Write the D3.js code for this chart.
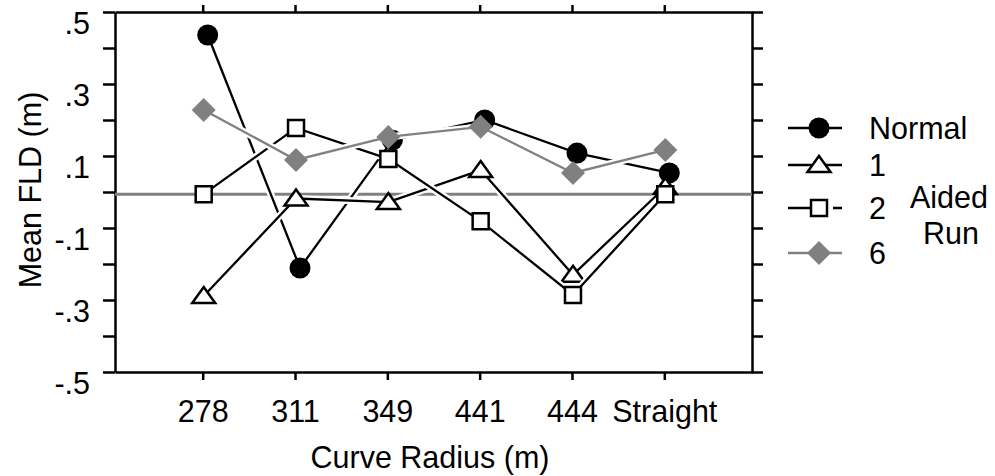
<!DOCTYPE html>
<html>
<head>
<meta charset="utf-8">
<script src="https://cdn.jsdelivr.net/npm/d3@7"></script>
<style>
  body { margin: 0; background: #fff; }
  svg { display: block; font-family: "Liberation Sans", Arial, sans-serif; }
  .axis path, .axis line { stroke: #000; stroke-width: 2.5; }
</style>
</head>
<body>
<div id="chart"></div>
<script>
// data
var categories = ["278", "311", "349", "441", "444", "Straight"];
var normalVals = [0.436, -0.211, 0.144, 0.200, 0.108, 0.053];
var aided1Vals = [-0.289, -0.018, -0.028, 0.061, -0.230, 0.014];
var aided2Vals = [-0.006, 0.178, 0.092, -0.081, -0.286, -0.006];
var aided6Vals = [0.228, 0.089, 0.153, 0.181, 0.053, 0.117];
var refValue = -0.006;
var yTickVals = [-0.5, -0.4, -0.3, -0.2, -0.1, 0, 0.1, 0.2, 0.3, 0.4, 0.5];
var yTickLabels = {"-0.5": "-.5", "-0.3": "-.3", "-0.1": "-.1", "0.1": ".1", "0.3": ".3", "0.5": ".5"};
var legendNames = ["Normal", "1", "2", "6"];

var width = 995, height = 476;
var plotLeft = 115, plotRight = 752, plotTop = 12, plotBottom = 372;
var fontSize = 30.5;

var svg = d3.select("#chart").append("svg")
    .attr("width", width)
    .attr("height", height);

var x = d3.scalePoint().domain(categories).range([plotLeft, plotRight]).padding(0.95);
var y = d3.scaleLinear().domain([-0.5, 0.5]).range([plotBottom, plotTop]);

// axes
var yLeft = svg.append("g").attr("class", "axis")
    .attr("transform", "translate(" + plotLeft + ",0)")
    .call(d3.axisLeft(y).tickValues(yTickVals).tickSize(12).tickSizeOuter(0)
        .tickFormat(function (d) { return yTickLabels[String(+d.toFixed(1))] || ""; }));
yLeft.selectAll("text")
    .attr("x", -25).attr("dy", "0.7em")
    .style("font-size", fontSize + "px").style("font-family", "inherit").attr("fill", "#000");

svg.append("g").attr("class", "axis")
    .attr("transform", "translate(" + plotRight + ",0)")
    .call(d3.axisRight(y).tickValues(yTickVals).tickSize(11).tickSizeOuter(0).tickFormat(""));

var xBottom = svg.append("g").attr("class", "axis")
    .attr("transform", "translate(0," + plotBottom + ")")
    .call(d3.axisBottom(x).tickSize(8).tickSizeOuter(0));
xBottom.selectAll("text")
    .attr("y", 50).attr("dy", 0)
    .style("font-size", fontSize + "px").style("font-family", "inherit").attr("fill", "#000");

svg.append("g").attr("class", "axis")
    .attr("transform", "translate(0," + plotTop + ")")
    .call(d3.axisTop(x).tickSize(7).tickSizeOuter(0).tickFormat(""));

// axis titles
svg.append("text")
    .attr("x", 430).attr("y", 468)
    .attr("text-anchor", "middle")
    .style("font-size", fontSize + "px")
    .text("Curve Radius (m)");

svg.append("text")
    .attr("transform", "translate(41," + 190 + ") rotate(-90)")
    .attr("text-anchor", "middle")
    .style("font-size", fontSize + "px")
    .text("Mean FLD (m)");

// reference line
svg.append("line")
    .attr("x1", plotLeft).attr("x2", plotRight)
    .attr("y1", y(refValue)).attr("y2", y(refValue))
    .attr("stroke", "#808080").attr("stroke-width", 3);

// marker shapes
function markerPath(kind) {
    if (kind == "triangle") return "M0,-9L11.5,7L-11.5,7Z";
    if (kind == "square") return "M-8,-8H8V8H-8Z";
    if (kind == "diamond") return "M0,-12L12,0L0,12L-12,0Z";
    return d3.arc()({innerRadius: 0, outerRadius: 10.5, startAngle: 0, endAngle: 2 * Math.PI});
}

var series = [
    {name: "Normal", values: normalVals, kind: "circle", color: "#000", fill: "#000", dx: 5},
    {name: "1", values: aided1Vals, kind: "triangle", color: "#000", fill: "#fff", dx: 1},
    {name: "2", values: aided2Vals, kind: "square", color: "#000", fill: "#fff", dx: 1},
    {name: "6", values: aided6Vals, kind: "diamond", color: "#808080", fill: "#808080", dx: 1}
];

series.forEach(function (s) {
    var pts = categories.map(function (c, i) { return [x(c) + s.dx, y(s.values[i])]; });
    var line = d3.line();
    var g = svg.append("g");
    g.append("path").attr("d", line(pts))
        .attr("fill", "none").attr("stroke", "#fff").attr("stroke-width", 7);
    g.append("path").attr("d", line(pts))
        .attr("fill", "none").attr("stroke", s.color).attr("stroke-width", 2.3);
    g.selectAll(".m").data(pts).enter().append("path")
        .attr("class", "m")
        .attr("transform", function (d) { return "translate(" + d[0] + "," + d[1] + ")"; })
        .attr("d", markerPath(s.kind))
        .attr("fill", s.fill)
        .attr("stroke", s.kind == "triangle" || s.kind == "square" ? "#000" : "none")
        .attr("stroke-width", 2.5);
});

// legend
var legendY = [128, 165, 208, 253];
var legend = svg.append("g");
series.forEach(function (s, i) {
    var ly = legendY[i];
    legend.append("line")
        .attr("x1", 788).attr("x2", 842).attr("y1", ly).attr("y2", ly)
        .attr("stroke", s.color).attr("stroke-width", 2.3);
    if (s.kind == "square") {
        legend.append("line")
            .attr("x1", 828).attr("x2", 833).attr("y1", ly).attr("y2", ly)
            .attr("stroke", "#fff").attr("stroke-width", 4);
    }
    legend.append("path")
        .attr("transform", "translate(819," + ly + ")")
        .attr("d", markerPath(s.kind))
        .attr("fill", s.fill)
        .attr("stroke", s.kind == "triangle" || s.kind == "square" ? "#000" : "none")
        .attr("stroke-width", 2.5);
    legend.append("text")
        .attr("x", 869).attr("y", ly + 11)
        .style("font-size", fontSize + "px")
        .text(legendNames[i]);
});
legend.append("text")
    .attr("x", 949).attr("y", 208)
    .attr("text-anchor", "middle")
    .style("font-size", fontSize + "px")
    .text("Aided");
legend.append("text")
    .attr("x", 951).attr("y", 244)
    .attr("text-anchor", "middle")
    .style("font-size", fontSize + "px")
    .text("Run");
</script>
</body>
</html>
